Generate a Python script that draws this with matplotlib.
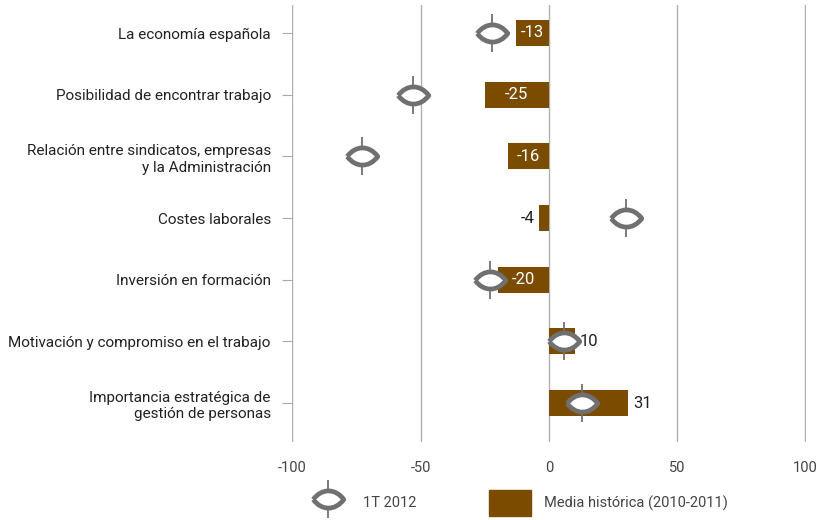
import matplotlib
matplotlib.use("Agg")
import matplotlib.pyplot as plt
from matplotlib.path import Path
from matplotlib.lines import Line2D
from matplotlib.patches import Patch

plt.rcParams['font.family'] = ['Roboto', 'DejaVu Sans']

categories = ["La economía española",
              "Posibilidad de encontrar trabajo",
              "Relación entre sindicatos, empresas\ny la Administración",
              "Costes laborales",
              "Inversión en formación",
              "Motivación y compromiso en el trabajo",
              "Importancia estratégica de\ngestión de personas"]
historic = [-13, -25, -16, -4, -20, 10, 31]
current = [-22, -53, -73, 30, -23, 6, 13]
xticks = [-100, -50, 0, 50, 100]

brown = '#7b4b00'
grey = '#707070'

# lens-shaped "eye" marker
eye = Path([(-1, 0), (-0.45, 0.75), (0.45, 0.75), (1, 0),
            (0.45, -0.75), (-0.45, -0.75), (-1, 0)],
           [Path.MOVETO, Path.CURVE4, Path.CURVE4, Path.CURVE4,
            Path.CURVE4, Path.CURVE4, Path.CURVE4])

fig = plt.figure(figsize=(8.17, 5.2), dpi=100)
ax = fig.add_axes([0.357, 0.15, 0.6296, 0.84])

y = list(range(len(categories)))
ax.barh(y, historic, height=0.42, color=brown, zorder=2)

for yi, v in zip(y, historic):
    if v <= -13:
        ax.text(v / 2, yi, str(v), ha='center', va='center', color='white',
                fontsize=12, zorder=5)
    elif v < 0:
        ax.text(v - 1.5, yi, str(v), ha='right', va='center', color='#222222',
                fontsize=12, zorder=5)
    else:
        ax.text(v + 2, yi, str(v), ha='left', va='center', color='#222222',
                fontsize=12, zorder=5)

ax.plot(current, y, linestyle='none', marker='|', markersize=27,
        markeredgewidth=1.3, color=grey, zorder=3)
ax.plot(current, y, linestyle='none', marker=eye, markersize=22,
        markerfacecolor='white', markeredgecolor=grey, markeredgewidth=3.4,
        zorder=4)

ax.set_xlim(-100.3, 100.3)
ax.set_ylim(6.63, -0.45)
ax.set_xticks(xticks)
ax.set_xticklabels([str(t) for t in xticks], fontsize=10.5, color='#444444')
ax.set_yticks(y)
ax.set_yticklabels(categories, fontsize=11, color='#222222', linespacing=1.25)
ax.tick_params(axis='x', length=0, pad=14)
ax.tick_params(axis='y', length=7, width=0.8, color='#aaaaaa', pad=8)
ax.grid(axis='x', color='#b0b0b0', linewidth=1)
ax.set_axisbelow(True)
for s in ax.spines.values():
    s.set_visible(False)

h1 = (Line2D([], [], linestyle='none', marker='|', markersize=27,
             markeredgewidth=1.3, color=grey),
      Line2D([], [], linestyle='none', marker=eye, markersize=22,
             markerfacecolor='white', markeredgecolor=grey, markeredgewidth=3.4))
h2 = Patch(color=brown)
fig.legend([h1, h2], ["1T 2012", "Media histórica (2010-2011)"],
           loc='center left', bbox_to_anchor=(0.36, 0.033), ncol=2,
           frameon=False, fontsize=10.5, handlelength=2.9, handleheight=2.3,
           columnspacing=5.0, handletextpad=0.9, labelcolor='#444444')

fig.savefig("out.png", dpi=100)
